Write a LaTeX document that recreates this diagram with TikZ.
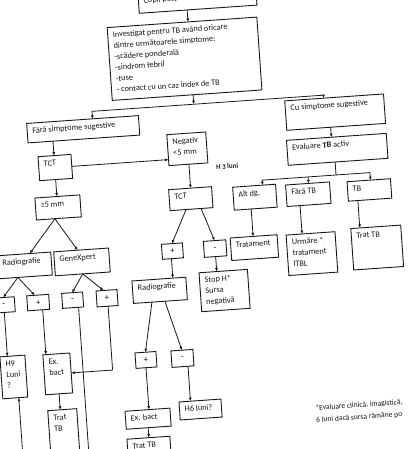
\documentclass[tikz,border=0pt]{standalone}
\usepackage{fontspec}
\setmainfont{Carlito}
\usetikzlibrary{arrows.meta}
\newcommand{\mybox}[6]{%
  \node[boxst, anchor=north west, minimum width={(#4-(#2))*1pt}, minimum height={(#5-(#3))*1pt}] (#1) at (#2,#3) {};
  \node[txt, anchor=north west] at ([xshift=5pt,yshift=-2.3pt]#1.north west) {\strut #6};}
\newcommand{\mypm}[6]{%
  \node[boxst, font=\fontsize{8.4}{11}\selectfont, anchor=north west, minimum width={(#4-(#2))*1pt}, minimum height={(#5-(#3))*1pt}] (#1) at (#2,#3) {#6};}
\begin{document}
\begin{tikzpicture}[x=1pt,y=-1pt,
  boxst/.style={draw=black!90, line width=0.9pt, inner sep=0pt, outer sep=0pt, fill=white},
  txt/.style={inner sep=0pt, align=left, font=\fontsize{8.3}{11}\selectfont, text=black!90},
  conn/.style={line width=0.8pt, draw=black!90},
  arr/.style={conn, -{Latex[length=3.5pt,width=3pt]}},
  note/.style={inner sep=0pt, font=\fontsize{7.6}{12}\selectfont, anchor=base west, text=black!90},
  hnote/.style={inner sep=0pt, font=\bfseries\fontsize{7}{8}\selectfont, text=black!90}]
\useasboundingbox (0,0) rectangle (412,449);
\begin{scope}[transform canvas={rotate=4}]
% boxes
\mybox{top}{138}{3}{256}{23}{Copii peste 1 an}
\mybox{inv}{105}{35}{255}{108}{Investigat pentru TB având oricare\\dintre următoarele simptome:\\-scădere ponderală\\-sindrom febril\\-tuse\\- contact cu un caz index de TB}
\mybox{fara}{18}{125}{130}{144.5}{Fără simptome sugestive}
\mybox{cu}{277}{120.5}{376}{150}{Cu simptome sugestive}
\mybox{eval}{276}{160}{376}{185}{Evaluare \textbf{TB} activ}
\mybox{altdg}{219}{203}{262}{226}{Alt dg.}
\mybox{faratb}{272}{204.5}{316}{226}{Fără TB}
\mybox{tb}{333.5}{205.5}{377}{225}{TB}
\mybox{trat}{213}{253.5}{260}{276}{Tratament}
\mybox{urm}{269}{254.5}{318}{295}{Urmăre *\\tratament\\ITBL}
\mybox{trattb}{334}{252.5}{384}{294}{Trat TB}
\mybox{tcta}{27}{159}{60}{183}{TCT}
\mybox{neg}{157}{146}{196}{177}{Negativ\\<5 mm}
\mybox{tctb}{155}{201}{198}{222}{TCT}
\mybox{ge}{21}{200}{66}{222}{≥5 mm}
\mybox{rada}{-21}{255}{33}{278}{Radiografie}
\mybox{gx}{36}{255}{91}{279}{GeneXpert}
\mypm{ma}{-28.5}{297}{-6.5}{312}{-}
\mypm{pa}{6}{297}{28}{312}{+}
\mypm{mb}{41}{297}{62}{312}{-}
\mypm{pb}{75.5}{297}{96.5}{313}{+}
\mybox{hnine}{-25}{356}{0}{398}{H9\\Luni\\?}
\mybox{exa}{18}{357}{45}{397}{Ex.\\bact}
\mybox{trta}{19}{413}{48}{455}{Trat\\TB}
\mypm{pc}{144}{255}{165}{270}{+}
\mypm{mc}{186}{255}{208.5}{271}{-}
\mybox{stop}{179.5}{286}{228}{325}{Stop H*\\Sursa\\negativă}
\mybox{radb}{112}{289.5}{166}{312}{Radiografie}
\mypm{pd}{110}{361.5}{131}{377}{+}
\mypm{md}{146}{362}{168}{378.5}{-}
\mybox{exb}{96}{419}{141}{437}{Ex. bact}
\mybox{hsix}{150.5}{413.5}{192.5}{431.5}{H6 luni?}
\mybox{trtb}{96}{447}{139}{475}{Trat TB}
\node[hnote] (h3) at (215,182) {H 3 luni};
\node[note] (fn1) at (286,431.5) {*Evaluare clinică, imagistică,};
\node[note] (fn2) at (286,443.5) {6 luni dacă sursa rămâne po};
% connectors
\draw[arr] (top.south -| 186,0) -- (inv.north -| 186,0);
\coordinate (ja) at (186,117.5);
\draw[arr] (inv.south -| ja) -- (ja);
\draw[arr] (ja) -| (fara.north -| 84,0);
\draw[arr] (ja) -| (cu.north -| 316,0);
\draw[arr] (fara.south -| 43,0) -- (tcta.north -| 43,0);
\draw[arr] (tcta.east) -- (tcta.east -| neg.west);
\draw[arr] (neg.south -| 177,0) -- (tctb.north -| 177,0);
\draw[arr] (tcta.south -| 43,0) -- (ge.north -| 43,0);
\draw[arr] ([xshift=-4pt]ge.south) -- (rada.north -| 12,0);
\draw[arr] ([xshift=-4pt]ge.south) -- (gx.north -| 60,0);
\draw[arr] ([xshift=-7.5pt]rada.south) -- (ma.north);
\draw[arr] ([xshift=-7.5pt]rada.south) -- (pa.north -| 14,0);
\draw[arr] (gx.south) -- (mb.north);
\draw[arr] (gx.south) -- (pb.north -| 83,0);
\draw[arr] (ma.south) -- (ma.south |- hnine.north);
\draw[arr] (pa.south -| 21,0) -- (exa.north -| 21,0);
\draw[arr] (pb.south -| 86.5,0) |- (exa.east);
\coordinate (offa) at (57,480);
\draw[conn] (mb.south -| offa) -- (offa);
\coordinate (offb) at (-9,480);
\draw[arr] (offb) -- (hnine.south -| offb);
\draw[arr] (exa.south) -- (exa.south |- trta.north);
\draw[arr] (tctb.south -| 171,0) -- (pc.north);
\draw[arr] (tctb.south -| 186,0) -- (mc.north);
\draw[arr] (pc.south -| 153,0) -- (radb.north -| 153,0);
\draw[arr] (mc.south) -- (mc.south |- stop.north);
\draw[arr] (radb.south -| 130.5,0) -- (pd.north);
\draw[arr] (radb.south -| 143.5,0) -- (md.north);
\draw[arr] (pd.south -| 120,0) -- (exb.north -| 120,0);
\draw[arr] (md.south -| 162,0) -- (hsix.north -| 162,0);
\draw[arr] (exb.south -| 118,0) -- (trtb.north -| 118,0);
\draw[arr] (cu.south -| 321,0) -- (eval.north -| 321,0);
\coordinate (jb) at (323,198);
\draw[conn] (eval.south -| jb) -- (jb);
\draw[arr] (jb) -| (altdg.north -| 249,0);
\draw[arr] (jb) -| (tb.north -| 357,0);
\draw[arr] (jb -| 295,0) -- (faratb.north -| 295,0);
\draw[arr] (altdg.south -| 236,0) -- (trat.north -| 236,0);
\draw[arr] (faratb.south -| 285,0) -- (urm.north -| 285,0);
\draw[arr] (tb.south -| 343,0) -- (trattb.north -| 343,0);
\end{scope}
\end{tikzpicture}
\end{document}
